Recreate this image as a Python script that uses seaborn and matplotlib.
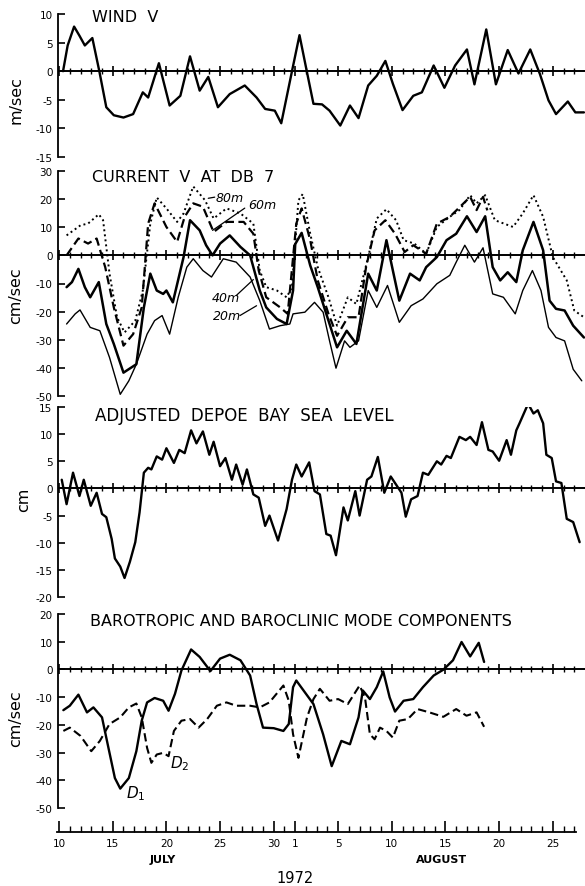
import numpy as np
import matplotlib
matplotlib.use("Agg")
import matplotlib.pyplot as plt
import seaborn as sns

# Time axis: day 0 = 10 July 1972
date_tick_days = [0, 5, 10, 15, 20, 22, 26, 31, 36, 41, 46]
date_tick_labels = ["10", "15", "20", "25", "30", "1", "5", "10", "15", "20", "25"]

# Wind V (m/sec)
wind_day = [0.37, 0.8, 1.4, 1.9, 2.4, 3.1, 3.75, 4.4, 5.1, 6.0, 6.9, 7.8, 8.3, 9.3,
            10.3, 11.3, 12.2, 13.1, 13.9, 14.8, 15.9, 17.3, 18.4, 19.2, 20.1, 20.7,
            21.7, 22.4, 23.1, 23.7, 24.5, 25.2, 26.2, 27.1, 27.9, 28.8, 29.6, 30.4,
            31.1, 32.0, 33.0, 33.8, 34.9, 35.9, 36.9, 38.0, 38.7, 39.8, 40.7, 41.8,
            42.8, 43.9, 44.8, 45.6, 46.3, 47.4, 48.1, 48.9]
wind_v = [0.0, 4.5, 7.8, 6.2, 4.5, 5.8, 0.0, -6.3, -7.7, -8.1, -7.5, -3.7, -4.6, 1.4,
          -6.0, -4.3, 2.6, -3.4, -1.0, -6.3, -4.0, -2.5, -4.6, -6.6, -6.9, -9.1,
          0.0, 6.3, -0.2, -5.7, -5.8, -6.9, -9.5, -6.0, -8.2, -2.5, -0.8, 1.8,
          -2.2, -6.8, -4.3, -3.7, 1.0, -2.9, 1.0, 3.8, -2.3, 7.3, -2.3, 3.7,
          -0.4, 3.8, -0.5, -5.1, -7.5, -5.3, -7.2, -7.2]

# Current V at DB 7 (cm/sec), by depth
cur80_day = [0.7, 2.0, 2.7, 3.7, 4.1, 4.7, 5.4, 6.1, 7.1, 7.8, 8.5, 9.1, 10.0, 11.0,
             11.6, 12.5, 13.6, 14.4, 15.6, 16.9, 18.1, 18.7, 19.3, 20.3, 21.2, 21.7,
             22.3, 22.7, 23.4, 24.1, 25.1, 25.9, 26.9, 27.7, 28.8, 29.6, 30.5, 31.4,
             32.1, 33.1, 34.2, 35.2, 36.4, 37.3, 38.3, 38.9, 39.7, 40.6, 42.3, 43.2,
             44.2, 45.1, 46.0, 47.3, 48.0, 48.9]
cur80 = [7.1, 10.7, 11.3, 14.6, 12.5, -6.5, -22.0, -27.4, -23.2, -12.5, 11.3, 20.6, 16.7, 11.9,
         14.9, 24.5, 19.6, 13.1, 16.7, 14.9, 11.3, -5.4, -11.3, -12.5, -14.9, -11.3,
         19.6, 21.8, 7.7, -4.2, -14.9, -25.0, -14.9, -17.3, -0.6, 13.1, 16.4, 12.5,
         5.4, 4.2, 0.6, 10.1, 13.7, 16.1, 21.4, 18.5, 21.4, 12.5, 10.1, 14.9,
         21.4, 13.7, -0.6, -8.9, -19.6, -22.0]

cur60_day = [0.7, 1.8, 2.7, 3.5, 4.3, 5.1, 6.0, 6.9, 7.7, 8.3, 8.9, 10.0, 11.0, 11.7,
             12.5, 13.4, 14.4, 15.6, 17.2, 18.1, 18.6, 19.3, 20.6, 21.3, 22.1, 22.6,
             23.4, 24.1, 25.1, 25.9, 26.9, 27.9, 28.6, 29.4, 30.4, 31.3, 32.2, 33.0,
             34.2, 35.2, 36.4, 38.3, 38.9, 39.5, 39.9]
cur60 = [0.0, 6.0, 4.2, 6.0, -4.2, -18.5, -32.1, -28.0, -18.5, 11.3, 18.5, 10.1, 4.8, 13.7,
         18.5, 17.3, 8.3, 11.9, 11.9, 7.7, -5.4, -14.9, -18.5, -20.8, 11.3, 16.7,
         5.4, -8.9, -20.8, -28.6, -22.0, -22.0, -4.2, 8.9, 12.5, 7.7, 1.2, 3.6,
         0.6, 11.3, 13.7, 20.8, 16.1, 20.8, 16.0]

cur40_day = [0.7, 1.2, 1.8, 2.4, 2.9, 3.7, 4.4, 5.1, 6.0, 7.2, 7.9, 8.5, 9.1, 9.7,
             10.0, 10.6, 11.6, 12.2, 13.1, 13.7, 14.3, 15.0, 15.9, 16.9, 17.8, 18.7,
             19.3, 20.3, 21.2, 21.8, 22.0, 22.6, 23.4, 24.1, 25.1, 25.9, 26.8, 27.7,
             28.8, 29.6, 30.5, 31.1, 31.7, 32.7, 33.6, 34.2, 35.2, 36.1, 37.0, 38.0,
             38.9, 39.7, 40.4, 41.1, 41.8, 42.6, 43.2, 44.2, 45.1, 45.7, 46.3, 47.1,
             47.9, 48.9]
cur40 = [-11.3, -9.5, -4.8, -11.3, -14.9, -9.5, -24.4, -31.5, -41.7, -38.7, -18.5, -6.5, -12.5, -13.7,
         -12.5, -16.7, -0.6, 12.5, 8.9, 3.6, 0.0, 4.2, 7.1, 3.0, 0.0, -12.5,
         -18.5, -22.6, -24.4, -12.5, 4.0, 8.0, -3.6, -11.3, -23.2, -32.7, -26.8, -31.5,
         -6.5, -12.5, 5.4, -5.4, -16.1, -6.5, -8.9, -4.2, -0.6, 5.4, 7.7, 13.9,
         8.3, 13.9, -4.2, -8.9, -6.0, -9.5, 1.8, 11.9, 1.8, -16.1, -19.0, -19.6,
         -25.0, -29.2]

cur20_day = [0.7, 1.5, 1.95, 2.9, 3.8, 4.7, 5.7, 6.5, 7.2, 8.2, 8.9, 9.6, 10.3, 11.1,
             11.9, 12.5, 13.4, 14.2, 15.3, 16.5, 17.8, 18.7, 19.6, 20.6, 21.5, 21.8,
             22.9, 23.8, 24.6, 25.2, 25.8, 26.6, 27.1, 27.9, 28.8, 29.6, 30.6, 31.7,
             32.8, 33.9, 35.2, 36.4, 37.0, 37.8, 38.7, 39.5, 40.4, 41.4, 42.5, 43.2,
             44.1, 44.9, 45.6, 46.3, 47.1, 47.9, 48.7]
cur20 = [-24.4, -20.8, -19.4, -25.6, -26.8, -36.3, -49.4, -44.6, -38.7, -28.0, -23.2, -21.4, -28.0, -14.9,
         -4.2, -1.2, -5.4, -7.7, -1.2, -2.4, -7.7, -16.1, -26.2, -25.0, -24.4, -20.8,
         -20.2, -16.7, -20.2, -30.4, -40.1, -30.4, -32.7, -30.4, -12.5, -18.5, -10.7, -23.8,
         -17.9, -15.5, -10.1, -7.1, -2.4, 3.6, -2.4, 2.7, -13.7, -14.9, -20.8, -12.5,
         -5.4, -12.5, -25.6, -29.2, -30.4, -40.5, -44.6]

# Adjusted Depoe Bay sea level (cm)
sea_day = [0.25, 0.7, 1.3, 1.9, 2.3, 2.95, 3.5, 4.0, 4.4, 4.9, 5.2, 5.7, 6.1, 6.6,
           7.1, 7.5, 7.9, 8.3, 8.6, 9.1, 9.6, 10.0, 10.7, 11.2, 11.7, 12.3, 12.8, 13.4,
           14.0, 14.4, 15.0, 15.5, 16.1, 16.5, 17.1, 17.5, 18.1, 18.6, 19.2, 19.6,
           20.4, 21.2, 21.7, 22.1, 22.6, 23.3, 23.8, 24.3, 24.9, 25.3, 25.8, 26.5,
           26.9, 27.6, 28.0, 28.7, 29.1, 29.7, 30.3, 30.9, 31.6, 31.9, 32.3, 32.8,
           33.4, 33.9, 34.4, 35.2, 35.6, 36.1, 36.5, 37.3, 37.9, 38.3, 38.9, 39.4,
           40.0, 40.4, 41.0, 41.7, 42.1, 42.6, 42.9, 43.7, 44.2, 44.6, 45.1, 45.4,
           45.9, 46.3, 46.8, 47.3, 47.9, 48.5]
sea_level = [1.6, -2.9, 2.9, -1.4, 1.6, -3.2, -0.8, -4.7, -5.3, -9.3, -12.9, -14.4, -16.5, -13.5,
             -9.9, -4.4, 2.9, 3.8, 3.5, 5.9, 5.3, 7.4, 4.7, 7.1, 6.5, 10.7, 8.3, 10.5,
             6.2, 8.6, 4.1, 5.6, 1.6, 4.4, 0.7, 3.5, -1.1, -1.7, -6.9, -5.0,
             -9.6, -3.8, 1.6, 4.4, 2.2, 4.8, -0.5, -1.1, -8.4, -8.7, -12.3, -3.5,
             -5.9, -0.5, -5.0, 1.6, 2.2, 5.8, -0.8, 2.2, 0.1, -0.8, -5.2, -2.0,
             -1.4, 2.9, 2.5, 5.0, 4.4, 6.0, 5.6, 9.5, 8.9, 9.5, 8.0, 12.2,
             7.1, 6.8, 5.1, 8.9, 6.2, 10.7, 12.0, 15.6, 13.8, 14.4, 12.0, 6.2,
             5.6, 1.3, 1.0, -5.6, -6.2, -9.9]

# Barotropic (D1) and baroclinic (D2) mode components (cm/sec)
d1_day = [0.4, 1.0, 1.8, 2.6, 3.2, 4.0, 4.6, 5.2, 5.7, 6.5, 7.2, 7.7, 8.2, 8.9,
          9.7, 10.2, 10.8, 11.4, 12.3, 13.1, 14.1, 15.0, 15.9, 16.9, 17.8, 18.4,
          19.0, 20.0, 20.9, 21.4, 21.8, 22.1, 23.7, 24.6, 25.4, 26.3, 27.1, 27.9,
          28.3, 28.96, 29.6, 30.2, 30.8, 31.3, 32.1, 33.0, 33.9, 34.9, 35.8, 36.7,
          37.5, 38.3, 39.1, 39.6]
d1 = [-14.7, -13.1, -9.1, -15.5, -13.7, -17.3, -28.3, -39.2, -43.0, -39.2, -29.5, -18.5, -11.9, -10.3,
      -11.3, -14.9, -8.8, -0.4, 7.2, 4.5, -0.6, 3.9, 5.3, 3.3, -2.2, -12.5,
      -21.0, -21.2, -22.2, -19.7, -6.4, -4.0, -12.5, -23.4, -34.9, -25.8, -27.0, -17.3,
      -7.6, -10.7, -6.4, -0.7, -10.1, -15.2, -11.3, -10.7, -6.4, -2.2, -0.1, 3.3,
      9.9, 4.7, 9.6, 2.7]

d2_day = [0.4, 1.0, 2.0, 3.0, 3.8, 4.7, 5.7, 6.5, 7.2, 7.7, 8.2, 8.6, 9.1, 9.7,
          10.2, 10.7, 11.4, 12.2, 13.0, 13.8, 14.7, 15.6, 16.5, 17.8, 18.7, 19.6,
          20.9, 21.4, 21.8, 22.3, 23.1, 23.7, 24.3, 25.2, 26.0, 26.9, 28.0, 28.5,
          28.96, 29.4, 29.9, 30.5, 31.1, 31.7, 32.5, 33.4, 34.5, 35.8, 37.0, 37.96,
          38.9, 39.6]
d2 = [-22.2, -21.0, -24.0, -29.5, -25.8, -19.7, -17.3, -13.7, -12.3, -17.3, -28.3, -33.7, -30.7, -30.1,
      -31.3, -22.2, -18.5, -17.9, -21.0, -17.9, -13.1, -11.9, -13.1, -13.1, -13.7, -11.9,
      -5.8, -11.3, -23.4, -31.9, -17.3, -10.7, -7.0, -11.3, -10.7, -12.5, -5.8, -10.1,
      -23.4, -25.2, -21.0, -22.2, -24.6, -18.5, -17.9, -14.3, -15.5, -17.1, -14.3, -16.7,
      -15.5, -20.7]

sns.set_style("white")
plt.rcParams["font.family"] = ["DejaVu Sans"]
plt.rcParams["axes.unicode_minus"] = False
plt.rcParams["text.color"] = "black"
plt.rcParams["axes.labelcolor"] = "black"
plt.rcParams["xtick.color"] = "black"
plt.rcParams["ytick.color"] = "black"

W, H = 585, 887
fig = plt.figure(figsize=(W / 100, H / 100), dpi=100)


def px_axes(top, bottom, left=58, right=585):
    return fig.add_axes([left / W, 1 - bottom / H, (right - left) / W, (bottom - top) / H])


XMIN, XMAX = -0.1, 49.0
all_days = np.arange(0, 49)
minor_days = [d for d in all_days if d not in date_tick_days]


def style_panel(ax, lo, hi, step):
    ax.set_xlim(XMIN, XMAX)
    ax.set_ylim(lo, hi)
    for side in ("top", "right", "bottom"):
        ax.spines[side].set_visible(False)
    ax.spines["left"].set_linewidth(1.3)
    ax.spines["left"].set_color("black")
    ax.set_xticks([])
    ax.set_yticks(np.arange(lo, hi + 1, step))
    ax.tick_params(axis="y", direction="in", length=5, width=1.2, labelsize=7.5,
                   pad=4, colors="black", left=True)
    ax.axhline(0, color="black", lw=1.4, zorder=1)
    ax.plot(minor_days, np.zeros(len(minor_days)), ls="none", marker="|",
            ms=4, mew=1.0, color="black")
    ax.plot(date_tick_days, np.zeros(len(date_tick_days)), ls="none", marker="|",
            ms=7, mew=1.2, color="black")
    ax.set_xlabel("")
    ax.set_ylabel("")
    ax.patch.set_alpha(0)


def draw(ax, x, y, lw, ls="-"):
    sns.lineplot(x=x, y=y, ax=ax, color="black", linewidth=lw, linestyle=ls,
                 sort=False, solid_joinstyle="round", solid_capstyle="round")


# Panel 1: wind
ax1 = px_axes(15, 158)
draw(ax1, wind_day, wind_v, 1.7)
style_panel(ax1, -15, 10, 5)

# Panel 2: current at DB 7
ax2 = px_axes(172, 397)
draw(ax2, cur80_day, cur80, 1.4, (0, (1, 1.6)))
draw(ax2, cur60_day, cur60, 1.6, (0, (4, 2)))
draw(ax2, cur40_day, cur40, 1.8)
draw(ax2, cur20_day, cur20, 1.0)
style_panel(ax2, -50, 30, 10)
lbl = dict(fontsize=9, style="italic", va="center", ha="left", color="black")
ax2.text(14.6, 20.7, "80m", **lbl)
ax2.text(17.6, 18.0, "60m", **lbl)
ax2.text(14.25, -15.0, "40m", **lbl)
ax2.text(14.3, -21.4, "20m", **lbl)
ax2.plot([13.9, 14.5], [20.3, 20.7], color="black", lw=0.9)
ax2.plot([17.3, 14.3], [16.8, 8.9], color="black", lw=0.9)
ax2.plot([16.5, 18.1], [-14.3, -8.6], color="black", lw=0.9)
ax2.plot([16.85, 18.4], [-21.4, -17.9], color="black", lw=0.9)

# Panel 3: sea level
ax3 = px_axes(408, 598)
draw(ax3, sea_day, sea_level, 1.7)
style_panel(ax3, -20, 15, 5)

# Panel 4: mode components
ax4 = px_axes(615, 809)
draw(ax4, d1_day, d1, 1.7)
draw(ax4, d2_day, d2, 1.5, (0, (4, 2)))
style_panel(ax4, -50, 20, 10)
ax4.text(6.2, -44.5, "$D_1$", fontsize=11, va="center", ha="left", color="black")
ax4.text(10.3, -33.5, "$D_2$", fontsize=11, va="center", ha="left", color="black")

# Shared date axis
axd = px_axes(831, 833)
axd.set_xlim(XMIN, XMAX)
for side in ("top", "right", "left"):
    axd.spines[side].set_visible(False)
axd.spines["bottom"].set_linewidth(1.3)
axd.spines["bottom"].set_color("black")
axd.spines["bottom"].set_bounds(-0.2, 48.2)
axd.set_yticks([])
axd.set_xticks(date_tick_days)
axd.set_xticklabels(date_tick_labels)
axd.set_xticks(all_days, minor=True)
axd.tick_params(axis="x", which="major", direction="in", length=8, width=1.2,
                labelsize=7.5, pad=4.5, colors="black", bottom=True)
axd.tick_params(axis="x", which="minor", direction="in", length=4, width=1.0,
                colors="black", bottom=True)
axd.patch.set_alpha(0)


def fig_text(x, y, s, **kw):
    fig.text(x / W, 1 - y / H, s, color="black", **kw)


title_kw = dict(fontsize=11.5, ha="left", va="center")
fig_text(92, 18, "WIND  V", **title_kw)
fig_text(92, 177, "CURRENT  V  AT  DB  7", **title_kw)
fig_text(95, 416, "ADJUSTED  DEPOE  BAY  SEA  LEVEL", fontsize=12, ha="left", va="center")
fig_text(90, 622, "BAROTROPIC AND BAROCLINIC MODE COMPONENTS", **title_kw)

ylab_kw = dict(fontsize=11.5, rotation=90, ha="center", va="center")
fig_text(16, 100, "m/sec", **ylab_kw)
fig_text(16, 296, "cm/sec", **ylab_kw)
fig_text(24, 500, "cm", **ylab_kw)
fig_text(16, 719, "cm/sec", **ylab_kw)

fig_text(163, 860, "JULY", fontsize=8, fontweight="bold", ha="center", va="center")
fig_text(442, 860, "AUGUST", fontsize=8, fontweight="bold", ha="center", va="center")
fig_text(295, 879, "1972", fontsize=10.5, ha="center", va="center")

fig.savefig("out.png", dpi=100, facecolor="white")
